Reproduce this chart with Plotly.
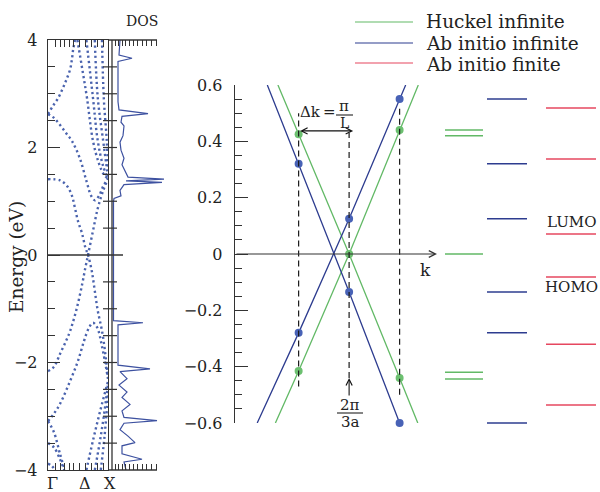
import plotly.graph_objects as go

# ---------------- data ----------------
# Left panel: band structure, k from Γ (0) to X (1), energy in eV
band_u1_k = [0, 0.08, 0.17, 0.25, 0.31, 0.37, 0.40, 0.42, 0.45]
band_u1_E = [2.62, 2.77, 2.92, 3.11, 3.27, 3.46, 3.65, 3.83, 4.0]
band_u2_k = [0, 0.1, 0.2, 0.3, 0.4, 0.53, 0.64, 0.72, 0.78, 0.85, 0.92, 1.0]
band_u2_E = [2.62, 2.55, 2.42, 2.27, 2.12, 1.8, 1.38, 1.1, 1.02, 1.1, 1.28, 1.42]
band_c1_k = [0, 0.2, 0.32, 0.4, 0.45, 0.5, 0.57, 0.62, 0.667, 0.73, 0.78, 0.83, 0.9, 0.95, 1.0]
band_c1_E = [1.41, 1.39, 1.28, 1.1, 0.87, 0.63, 0.39, 0.15, 0, -0.3, -0.67, -1.04, -1.41, -1.79, -2.3]
band_v1_k = [0, 0.1, 0.2, 0.3, 0.37, 0.48, 0.57, 0.62, 0.667, 0.75, 0.83, 0.92, 1.0]
band_v1_E = [-2.16, -2.08, -1.84, -1.6, -1.41, -0.99, -0.54, -0.25, 0, 0.45, 0.87, 1.2, 1.42]
band_v2_k = [0, 0.1, 0.2, 0.37, 0.5, 0.6, 0.68, 0.75, 0.82, 0.9, 1.0]
band_v2_E = [-3.09, -2.95, -2.77, -2.34, -1.97, -1.6, -1.36, -1.26, -1.35, -1.7, -2.3]
band_v3_k = [0, 0.1, 0.2, 0.28]
band_v3_E = [-3.09, -3.3, -3.7, -4.0]
band_ba_k = [0.49, 0.58, 0.65, 0.75, 0.85, 0.93, 1.0]
band_ba_E = [4.0, 3.4, 2.92, 2.12, 1.7, 1.5, 1.42]
band_bb_k = [0.64, 0.75, 0.83, 0.92, 1.0]
band_bb_E = [4.0, 2.92, 2.12, 1.65, 1.42]
band_bc_k = [0.78, 0.83, 0.92, 0.97, 1.0]
band_bc_E = [4.0, 2.92, 2.12, 1.7, 1.45]
band_bd_k = [0.9, 0.93, 0.98, 1.0]
band_bd_E = [4.0, 2.92, 2.12, 1.6]
band_da_k = [0.64, 0.75, 0.87, 1.0]
band_da_E = [-4.0, -3.45, -2.9, -2.35]
band_db_k = [0.78, 0.86, 0.93, 1.0]
band_db_E = [-4.0, -3.5, -3.0, -2.4]
band_dc_k = [0.88, 0.94, 1.0]
band_dc_E = [-4.0, -3.4, -2.6]
band_a1_k = [0, 0.1, 0.2, 0.27]
band_a1_E = [-3.5, -3.58, -3.8, -4.0]
band_a2_k = [0, 0.06, 0.12]
band_a2_E = [-3.88, -3.92, -4.0]

# Density of states (energy eV, arbitrary units)
dos_energy = [4.0, 3.72, 3.66, 3.60, 2.85, 2.70, 2.63, 2.58, 2.47, 2.40, 2.22, 2.10,
              1.95, 1.80, 1.68, 1.55, 1.45, 1.41, 1.38, 1.35, 1.31, 1.20, 1.10, 1.05,
              1.00, -1.22, -1.26, -1.30, -2.05, -2.12, -2.17, -2.30, -2.42, -2.55, -2.65, -2.78,
              -2.90, -3.02, -3.08, -3.13, -3.25, -3.37, -3.49, -3.55, -3.70, -3.80, -3.85, -4.0]
dos_value = [8, 7, 20, 6, 6, 7, 36, 10, 9, 12, 11, 8,
             9, 12, 10, 13, 16, 52, 14, 50, 12, 8, 9, 2,
             1.5, 1.5, 31, 6, 6, 38, 8, 15, 7, 15, 10, 18,
             10, 12, 45, 12, 8, 16, 23, 10, 10, 30, 12, 14]

energy_tickvals = [-4, -2, 0, 2, 4]
energy_ticktext = ["\u22124", "\u22122", "0", "2", "4"]
k_ruler_ticks = [0.12, 0.2, 0.27, 0.35, 0.43, 0.53, 0.63, 0.73, 0.83, 0.92]
dos_ruler_ticks = [3, 6, 10, 13, 17, 21, 25, 30, 34, 39, 44]
right_tick_energies = [-3.5, -3, -2.5, -2, -1.5, -1, -0.5, 0.5, 1, 1.5, 2, 2.5, 3, 3.5]
kpoint_labels = ["\u0393", "\u0394", "X"]

# Middle panel: dispersion near the Fermi point (k in units of Δk, energy)
huckel_up_k = [-1.46, -1, 0, 1, 1.37]
huckel_up_E = [-0.6, -0.415, 0, 0.44, 0.6]
huckel_dn_k = [-1.41, -1, 0, 1, 1.36]
huckel_dn_E = [0.6, 0.425, 0, -0.44, -0.6]
abinit_up_k = [-1.82, -1, 0, 1, 1.12]
abinit_up_E = [-0.6, -0.28, 0.125, 0.55, 0.6]
abinit_dn_k = [-1.62, -1, 0, 1]
abinit_dn_E = [0.6, 0.32, -0.135, -0.6]
huckel_dot_k = [-1, -1, 0, 1, 1]
huckel_dot_E = [0.425, -0.415, 0, 0.44, -0.44]
abinit_dot_k = [-1, -1, 0, 0, 1, 1]
abinit_dot_E = [0.32, -0.28, 0.125, -0.135, 0.55, -0.6]
allowed_k = [-1, 0, 1]
allowed_top = [0.50, 0.43, 0.52]
allowed_bottom = [-0.47, -0.44, -0.50]
y2_tickvals = [-0.6, -0.4, -0.2, 0, 0.2, 0.4, 0.6]
y2_ticktext = ["\u22120.6", "\u22120.4", "\u22120.2", "0", "0.2", "0.4", "0.6"]

# Right panel: energy levels
huckel_levels = [0.44, 0.42, 0, -0.42, -0.444]
abinit_inf_levels = [0.55, 0.32, 0.125, -0.135, -0.28, -0.6]
abinit_fin_levels = [0.518, 0.337, 0.071, -0.082, -0.32, -0.536]

legend_names = ["Huckel infinite", "Ab initio infinite", "Ab initio finite"]

# ---------------- style ----------------
W, H = 600, 492
FONT = "DejaVu Serif"
GREEN = "#62b966"
NAVY = "#2d3c8f"
DOTBLUE = "#4862b6"
RED = "#e6475f"
BANDBLUE = "#4a63ae"
AX = "#333333"
TXT = "#222222"
col_span = {"g": (0, 38), "b": (42, 82), "r": (101, 151)}
E_PAD = 7 / 281.5  # extra range on the level panel so edge levels are not clipped


def px(x):
    return x / W


def py(y):
    return 1 - y / H


def ann(text, x, y, size=15, xanchor="center", yanchor="middle", **kw):
    d = dict(xref="paper", yref="paper", x=px(x), y=py(y), text=text, showarrow=False,
             font=dict(family=FONT, size=size, color=TXT), xanchor=xanchor, yanchor=yanchor)
    d.update(kw)
    return d


def pline(x0, y0, x1, y1, color=AX, width=1.3, dash=None):
    return dict(type="line", xref="paper", yref="paper", x0=px(x0), y0=py(y0), x1=px(x1), y1=py(y1),
                line=dict(color=color, width=width, dash=dash))


fig = go.Figure()

# band structure
bands = [(band_u1_k, band_u1_E), (band_u2_k, band_u2_E), (band_c1_k, band_c1_E),
         (band_v1_k, band_v1_E), (band_v2_k, band_v2_E), (band_v3_k, band_v3_E),
         (band_ba_k, band_ba_E), (band_bb_k, band_bb_E), (band_bc_k, band_bc_E),
         (band_bd_k, band_bd_E), (band_da_k, band_da_E), (band_db_k, band_db_E),
         (band_dc_k, band_dc_E), (band_a1_k, band_a1_E), (band_a2_k, band_a2_E)]
for bk, be in bands:
    fig.add_trace(go.Scatter(x=bk, y=be, mode="lines", xaxis="x", yaxis="y",
                             line=dict(color=BANDBLUE, width=2.4, dash="2.2px,3px", shape="spline"),
                             showlegend=False, hoverinfo="skip"))

# DOS
fig.add_trace(go.Scatter(x=dos_value, y=dos_energy, mode="lines", xaxis="x3", yaxis="y",
                         line=dict(color="#3d51a0", width=1.2), showlegend=False, hoverinfo="skip"))

# middle panel lines
for kk, ee, c in [(huckel_up_k, huckel_up_E, GREEN), (huckel_dn_k, huckel_dn_E, GREEN),
                  (abinit_up_k, abinit_up_E, NAVY), (abinit_dn_k, abinit_dn_E, NAVY)]:
    fig.add_trace(go.Scatter(x=kk, y=ee, mode="lines", xaxis="x2", yaxis="y2",
                             line=dict(color=c, width=1.3), showlegend=False, hoverinfo="skip"))
fig.add_trace(go.Scatter(x=abinit_dot_k, y=abinit_dot_E, mode="markers", xaxis="x2", yaxis="y2",
                         marker=dict(color=DOTBLUE, size=8), cliponaxis=False, showlegend=False,
                         hoverinfo="skip"))
fig.add_trace(go.Scatter(x=huckel_dot_k, y=huckel_dot_E, mode="markers", xaxis="x2", yaxis="y2",
                         marker=dict(color="#6cc070", size=8), cliponaxis=False, showlegend=False,
                         hoverinfo="skip"))

# energy levels (own y axis with identical scale, slightly padded range)
for levels, key, c in [(huckel_levels, "g", GREEN), (abinit_inf_levels, "b", NAVY),
                       (abinit_fin_levels, "r", RED)]:
    xs, ys = [], []
    a, b = col_span[key]
    for e in levels:
        xs += [a, b, None]
        ys += [e, e, None]
    fig.add_trace(go.Scatter(x=xs, y=ys, mode="lines", xaxis="x4", yaxis="y3",
                             line=dict(color=c, width=1.5), showlegend=False, hoverinfo="skip"))

shapes = []
# left frame extras
shapes.append(pline(108, 40, 157, 40))
shapes.append(pline(108, 470, 157, 470))
shapes.append(pline(112, 40, 112, 470))
shapes.append(dict(type="line", xref="paper", yref="y", x0=px(48), x1=px(123), y0=0, y1=0,
                   line=dict(color=AX, width=1.3)))
for e in right_tick_energies:
    shapes.append(dict(type="line", xref="paper", yref="y", x0=px(103), x1=px(117), y0=e, y1=e,
                       line=dict(color=AX, width=1.2)))
# allowed-k dashed guides
for kk, t, b in zip(allowed_k, allowed_top, allowed_bottom):
    shapes.append(dict(type="line", xref="x2", yref="y2", x0=kk, x1=kk, y0=b, y1=t,
                       line=dict(color="#1a1a1a", width=1.2, dash="6px,4px")))
# fraction bars
shapes.append(pline(336, 115, 353, 115, color=TXT, width=1.1))
shapes.append(pline(337, 413, 363, 413, color=TXT, width=1.1))
# legend lines
for yy, c in zip([22, 43, 63], [GREEN, NAVY, RED]):
    shapes.append(pline(355, yy, 413, yy, color=c, width=1.2))

annotations = []
annotations.append(ann("DOS", 142, 21, 14))
annotations.append(ann("Energy (eV)", 16, 257, 18.5, textangle=-90))
for lab, xx in zip(kpoint_labels, [52, 85, 110]):
    annotations.append(ann(lab, xx, 483, 16))
for name, yy in zip(legend_names, [21, 43, 64]):
    annotations.append(ann(name, 424, yy, 18.5, xanchor="left"))
annotations.append(ann("LUMO", 571, 222, 15))
annotations.append(ann("HOMO", 571, 287, 15))
annotations.append(ann("k", 425, 270, 17))
annotations.append(ann("\u0394k\u2009=", 318, 112, 15))
annotations.append(ann("\u03c0", 344, 106, 15))
annotations.append(ann("L", 344, 123, 14))
annotations.append(ann("2\u03c0", 350, 405, 15))
annotations.append(ann("3a", 350, 422, 15))
# arrows
annotations.append(dict(xref="x2", yref="y2", axref="x2", ayref="y2", x=1.74, y=0, ax=-2.26, ay=0,
                        text="", showarrow=True, arrowhead=5, arrowsize=1.1, arrowwidth=1.2,
                        arrowcolor=AX, standoff=0))
annotations.append(dict(xref="x2", yref="y2", axref="x2", ayref="y2", x=0.08, y=0.437, ax=-1, ay=0.437,
                        text="", showarrow=True, arrowhead=5, startarrowhead=5, arrowside="end+start",
                        arrowsize=1.1, arrowwidth=1.1, arrowcolor="#111", standoff=0, startstandoff=0))
annotations.append(dict(xref="x2", yref="y2", axref="x2", ayref="y2", x=0, y=-0.44, ax=0, ay=-0.508,
                        text="", showarrow=True, arrowhead=5, arrowsize=1.1, arrowwidth=1.1,
                        arrowcolor="#111", standoff=0))

tickfont = dict(family=FONT, size=16, color=TXT)
fig.update_layout(
    width=W, height=H, margin=dict(l=0, r=0, t=0, b=0, pad=0, autoexpand=False), autosize=False,
    paper_bgcolor="white", plot_bgcolor="rgba(0,0,0,0)", hovermode=False,
    shapes=shapes, annotations=annotations, showlegend=False,
    xaxis=dict(domain=[px(48), px(108)], range=[0, 1], anchor="y", showgrid=False, zeroline=False,
               showline=True, linecolor=AX, linewidth=1.3, mirror="ticks", ticks="inside",
               tickmode="array", tickvals=k_ruler_ticks, ticklen=7, tickcolor=AX, showticklabels=False,
               automargin=False),
    yaxis=dict(domain=[py(470), py(40)], range=[-4, 4], anchor="x", showgrid=False, zeroline=False,
               showline=True, linecolor=AX, linewidth=1.3, mirror=True, ticks="inside", ticklen=12,
               tickcolor=AX, tickmode="array", tickvals=energy_tickvals, ticktext=energy_ticktext,
               tickfont=dict(family=FONT, size=16, color=TXT), ticklabelstandoff=6, automargin=False,
               minor=dict(tickmode="linear", tick0=0, dtick=0.5, ticklen=7, ticks="inside", tickcolor=AX)),
    xaxis3=dict(domain=[px(112), px(172)], range=[0, 60], anchor="y", showgrid=False, zeroline=False,
                showline=False, mirror="ticks", ticks="inside", tickmode="array", tickvals=dos_ruler_ticks,
                ticklen=6, tickcolor=AX, showticklabels=False, automargin=False),
    xaxis2=dict(domain=[px(235), px(440)], range=[-2.26, 1.8], anchor="y2", visible=False, automargin=False),
    yaxis2=dict(domain=[py(423), py(85)], range=[-0.6, 0.6], anchor="x2", showgrid=False, zeroline=False,
                showline=True, linecolor=AX, linewidth=1.3, ticks="inside", ticklen=13, tickcolor=AX,
                tickmode="array", tickvals=y2_tickvals, ticktext=y2_ticktext, tickfont=tickfont,
                ticklabelstandoff=8, automargin=False,
                minor=dict(tickmode="linear", tick0=0, dtick=0.05, ticklen=7, ticks="inside", tickcolor=AX)),
    xaxis4=dict(domain=[px(445), px(596)], range=[0, 151], anchor="y3", visible=False, automargin=False),
    yaxis3=dict(domain=[py(430), py(78)], range=[-0.6 - E_PAD, 0.6 + E_PAD], anchor="x4", visible=False,
                automargin=False),
)

fig.write_html("out.html", config={"displayModeBar": False, "staticPlot": True},
               post_script="document.body.style.margin='0';document.body.style.overflow='hidden';")
